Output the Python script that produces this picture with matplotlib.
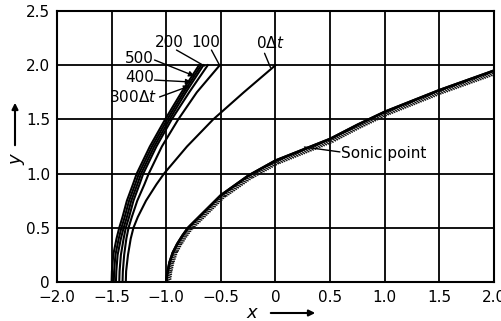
import matplotlib
matplotlib.use("Agg")
import matplotlib.pyplot as plt
import matplotlib.patheffects as pe

plt.rcParams['font.family'] = ['DejaVu Sans']

# Curves: y levels and x positions
y_levels = [0.0, 0.1, 0.25, 0.4, 0.5, 0.6, 0.75, 0.9, 1.0, 1.25, 1.5, 1.75, 2.0]
x_500 = [-1.50, -1.497, -1.485, -1.455, -1.43, -1.40, -1.36, -1.305, -1.27, -1.15, -1.01, -0.86, -0.70]
x_400 = [-1.48, -1.477, -1.465, -1.435, -1.41, -1.38, -1.34, -1.285, -1.25, -1.13, -0.99, -0.84, -0.68]
x_300 = [-1.46, -1.457, -1.445, -1.415, -1.39, -1.36, -1.32, -1.265, -1.23, -1.11, -0.97, -0.82, -0.66]
x_200 = [-1.43, -1.427, -1.415, -1.39, -1.37, -1.34, -1.30, -1.245, -1.21, -1.09, -0.95, -0.79, -0.62]
x_100 = [-1.40, -1.397, -1.385, -1.365, -1.345, -1.315, -1.265, -1.20, -1.16, -1.04, -0.89, -0.72, -0.51]
x_0 = [-1.37, -1.367, -1.35, -1.325, -1.30, -1.26, -1.185, -1.09, -1.02, -0.81, -0.57, -0.29, 0.0]

sonic_x = [-1.0, -0.99, -0.97, -0.94, -0.90, -0.85, -0.80, -0.72, -0.65, -0.50, -0.25, 0.0, 0.25, 0.5, 0.75, 1.0, 1.25, 1.5, 1.75, 2.0]
sonic_y = [0.0, 0.08, 0.18, 0.27, 0.35, 0.43, 0.50, 0.58, 0.65, 0.80, 0.98, 1.12, 1.22, 1.32, 1.45, 1.57, 1.67, 1.77, 1.86, 1.95]

x_ticks = [-2.0, -1.5, -1.0, -0.5, 0.0, 0.5, 1.0, 1.5, 2.0]
x_ticklabels = ['\u22122.0', '\u22121.5', '\u22121.0', '\u22120.5', '0', '0.5', '1.0', '1.5', '2.0']
y_ticks = [0.0, 0.5, 1.0, 1.5, 2.0, 2.5]
y_ticklabels = ['0', '0.5', '1.0', '1.5', '2.0', '2.5']

fig = plt.figure(figsize=(5.02, 3.21), dpi=100)
ax = fig.add_axes([0.1135, 0.1215, 0.8705, 0.8442])
ax.set_xlim(-2, 2)
ax.set_ylim(0, 2.5)

ax.set_xticks(x_ticks)
ax.set_xticklabels(x_ticklabels)
ax.set_yticks(y_ticks)
ax.set_yticklabels(y_ticklabels)
ax.tick_params(axis='both', length=0, labelsize=11)
ax.tick_params(axis='x', pad=6)
ax.tick_params(axis='y', pad=5)
ax.grid(True, color='black', lw=1.3)
for s in ax.spines.values():
    s.set_linewidth(1.5)

for xs in [x_500, x_400, x_300, x_200, x_100, x_0]:
    ax.plot(xs, y_levels, color='black', lw=1.5, solid_joinstyle='round')

ax.plot(sonic_x, sonic_y, color='black', lw=1.8,
        path_effects=[pe.withTickedStroke(angle=-60, spacing=1.7, length=2.0, linewidth=1.0, foreground='#111111'),
                      pe.Normal()])

# labels with leaders
fs = 11
def lab(text, tx, ty, sx, sy, ex, ey, arrow=True, ha='center'):
    ax.text(tx, ty, text, fontsize=fs, ha=ha, va='center')
    ax.annotate('', xy=(ex, ey), xytext=(sx, sy),
                arrowprops=dict(arrowstyle='-|>' if arrow else '-', color='black', lw=1.0,
                                mutation_scale=8, shrinkA=0, shrinkB=0))

lab('500', -1.244, 2.066, -1.107, 2.048, -0.741, 1.900)
lab('400', -1.244, 1.891, -1.107, 1.863, -0.769, 1.845)
lab('300$\\Delta\\mathit{t}$', -1.30, 1.707, -1.061, 1.707, -0.787, 1.808)
lab('200', -0.97, 2.214, -0.906, 2.140, -0.65, 1.993, arrow=False)
lab('100', -0.64, 2.214, -0.586, 2.14, -0.512, 2.0, arrow=False)
lab('0$\\Delta\\mathit{t}$', -0.046, 2.205, -0.10, 2.11, -0.046, 1.98, arrow=False)
lab('Sonic point', 0.60, 1.19, 0.59, 1.2, 0.265, 1.245, arrow=False, ha='left')

# axis labels with arrows
fig.text(252/502, 1-313/321, 'x', fontsize=13, style='italic', ha='center', va='center')
fig.patches.append(matplotlib.patches.FancyArrowPatch((268/502, 1-313/321), (318/502, 1-313/321),
                   transform=fig.transFigure, arrowstyle='-|>', mutation_scale=9, lw=1.5, color='black'))
fig.text(16/502, 1-160/321, 'y', fontsize=13, style='italic', ha='center', va='center', rotation=90)
fig.patches.append(matplotlib.patches.FancyArrowPatch((15/502, 1-148/321), (15/502, 1-100/321),
                   transform=fig.transFigure, arrowstyle='-|>', mutation_scale=9, lw=1.5, color='black'))

fig.savefig('out.png', dpi=100)
